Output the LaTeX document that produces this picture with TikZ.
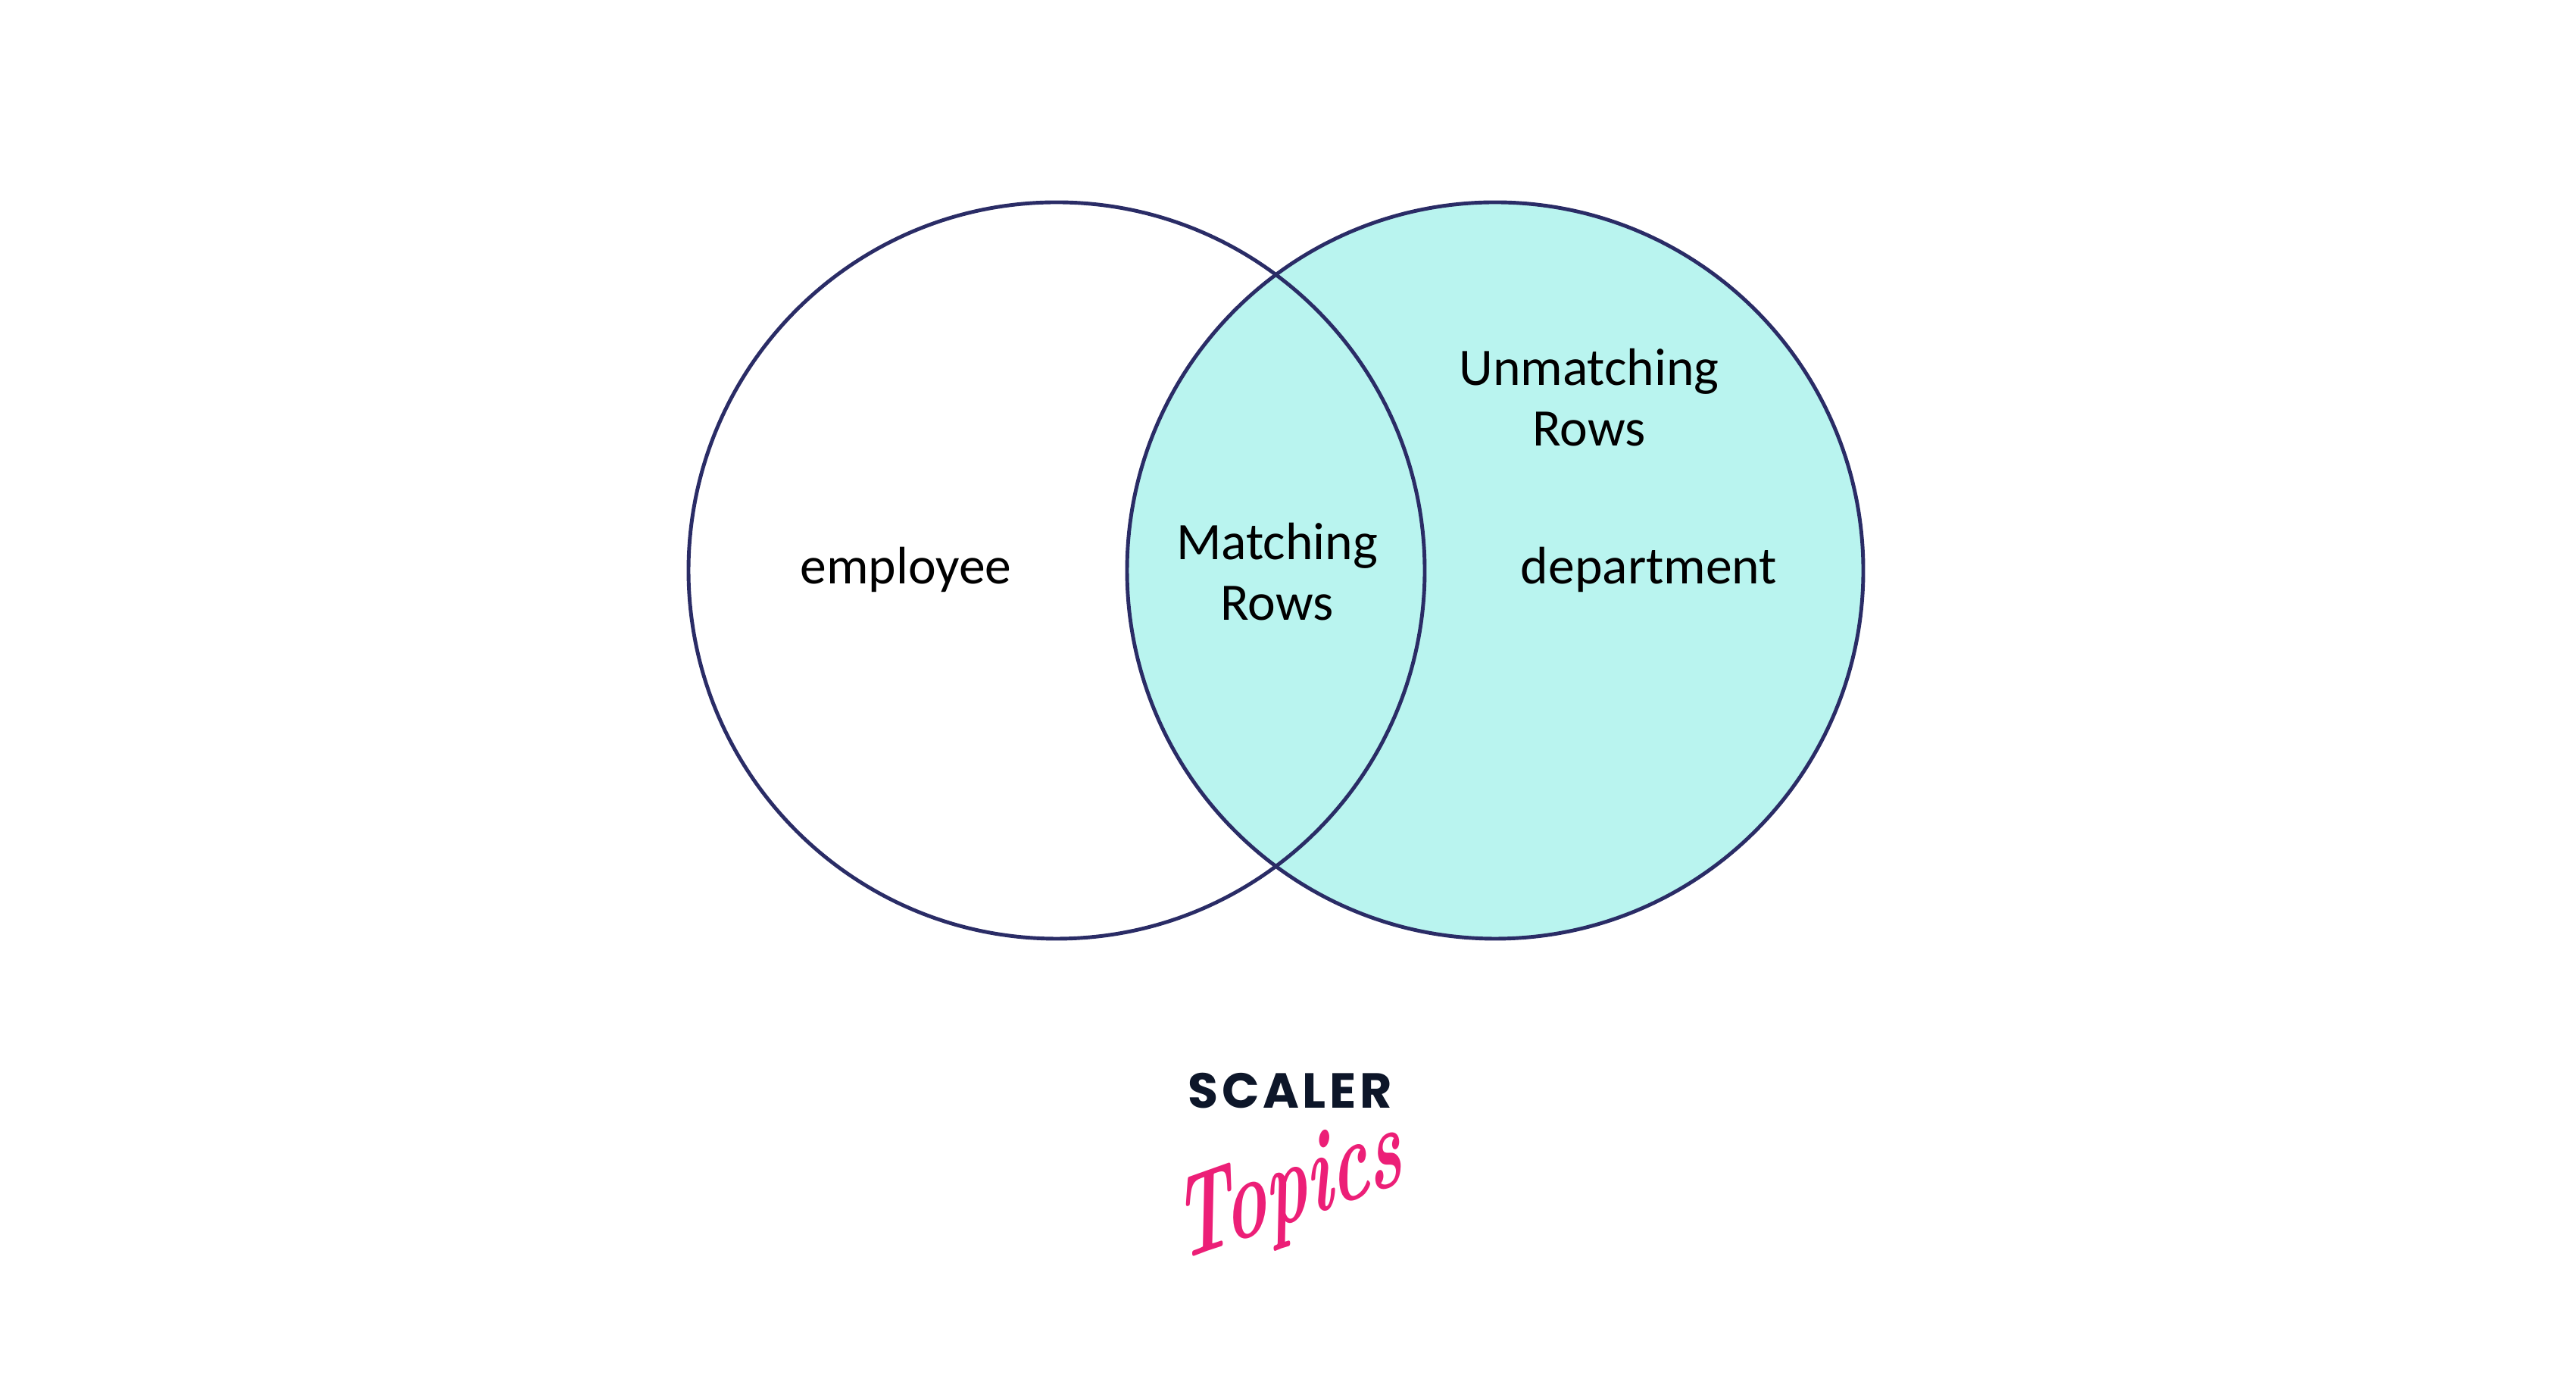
\documentclass[tikz,border=0pt]{standalone}
\usepackage{fontspec}
\newfontfamily\labelfont{Carlito}
\newfontfamily\logofont[LetterSpace=7]{Poppins}
\definecolor{tealfill}{HTML}{B9F4EF}
\definecolor{ringblue}{HTML}{2A2C66}
\definecolor{logodark}{HTML}{0D1629}
\definecolor{logopink}{HTML}{EC1F77}
\tikzset{
    vennlabel/.style={align=center, font=\labelfont\fontsize{19.8}{22.8}\selectfont, text=black, inner sep=0pt},
}
\begin{document}
\begin{tikzpicture}
    \useasboundingbox (0,0) rectangle (34.01,18.28);
    \fill[white] (0,0) rectangle (34.01,18.28);

    \filldraw[fill=tealfill, draw=ringblue, line width=1.4pt] (19.74,10.75) circle (4.86);
    \draw[ringblue, line width=1.4pt] (13.95,10.75) circle (4.86);

    \node[vennlabel] (employee) at (11.96,10.76) {employee};
    \node[vennlabel] (matching) at (16.86,10.73) {Matching\\Rows};
    \node[vennlabel] (unmatching) at (20.98,13.03) {Unmatching\\Rows};
    \node[vennlabel] (department) at (21.77,10.76) {department};

    \node[text=logodark, font=\logofont\bfseries\fontsize{18.5}{20}\selectfont, inner sep=0pt] (scaler) at (17.03,3.88) {SCALER};
    \node[text=logopink, font=\rmfamily\itshape\bfseries\fontsize{44}{46}\selectfont, inner sep=0pt, xscale=0.6, rotate=12] (topics) at (17.02,2.52) {Topics};
\end{tikzpicture}
\end{document}
